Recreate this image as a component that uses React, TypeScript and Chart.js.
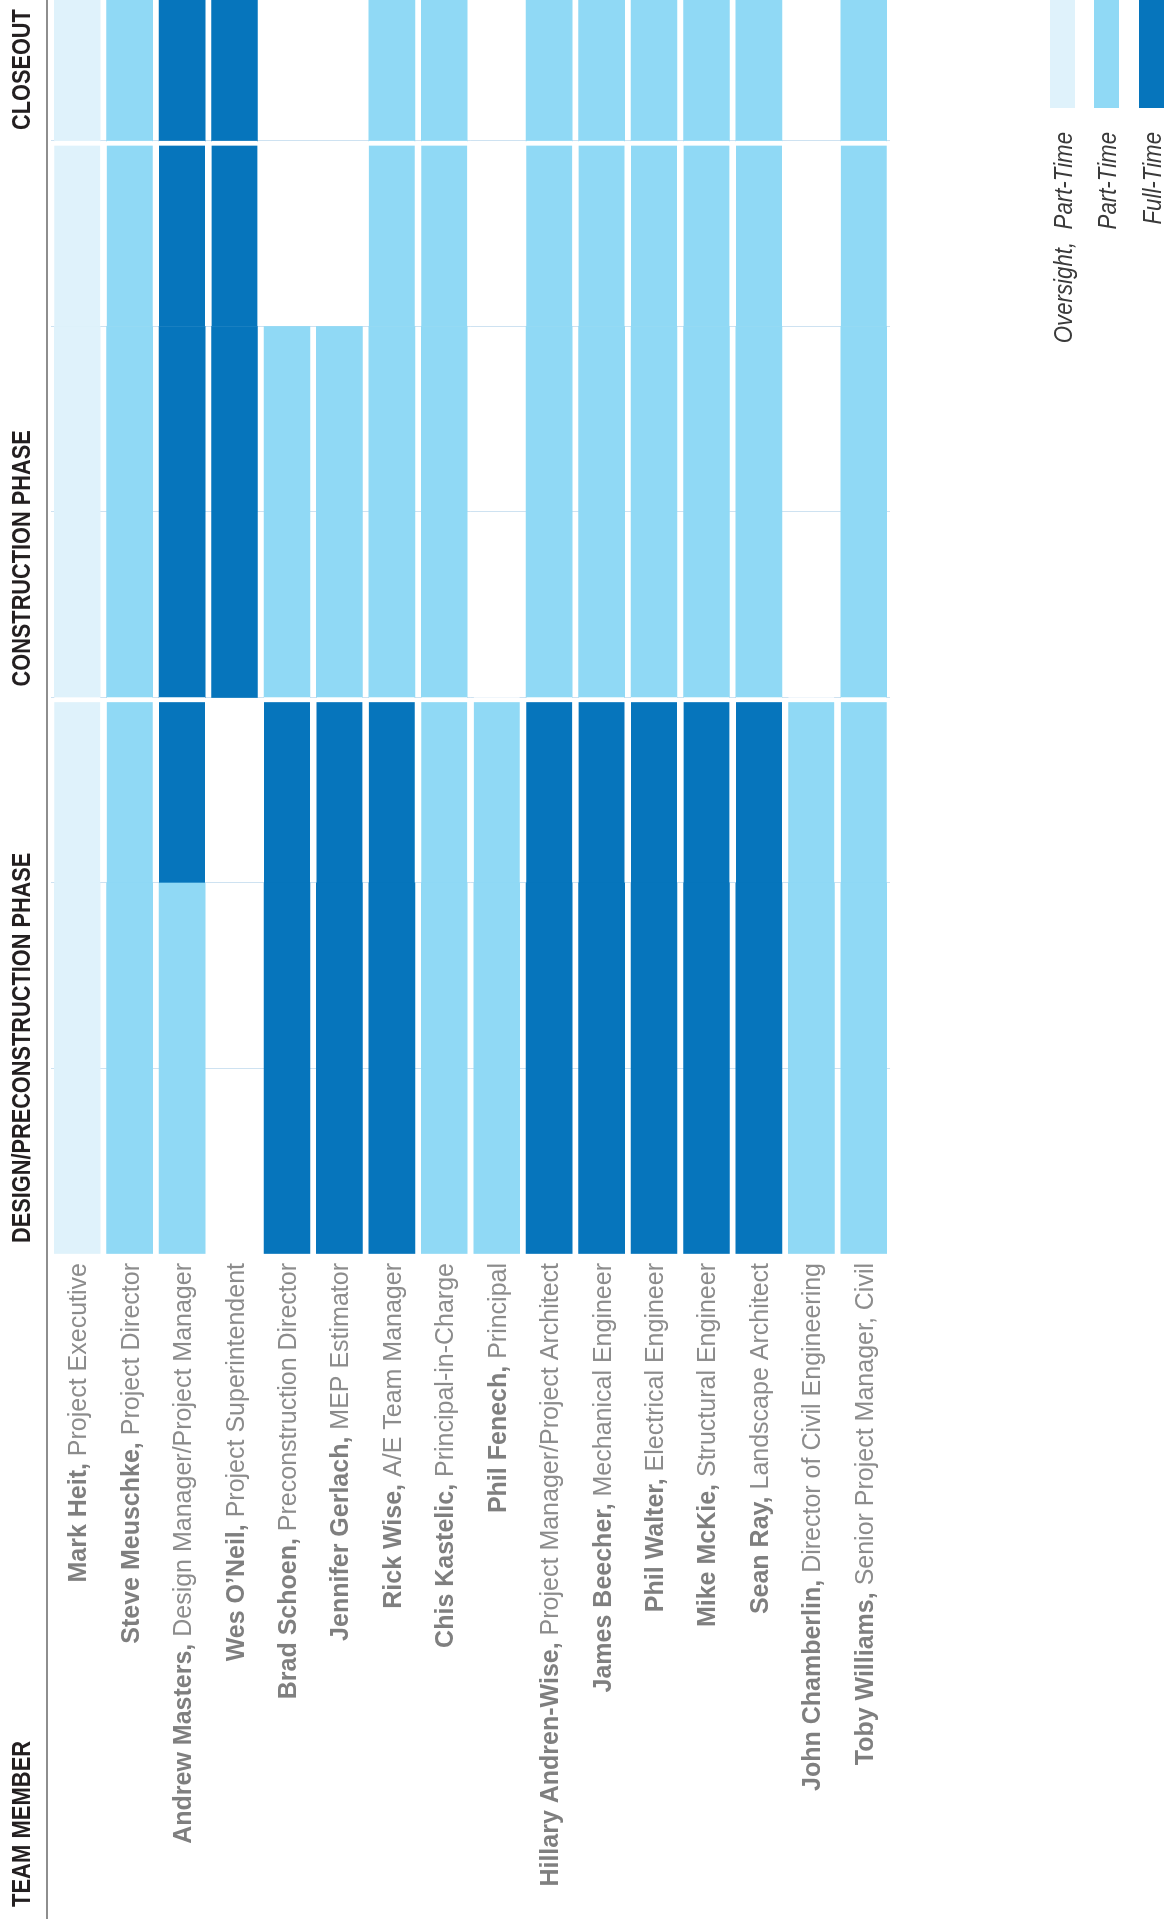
import React, { useEffect, useRef } from "react";
import { Chart, registerables } from "chart.js";

Chart.register(...registerables);

// ---- data ----
const memberNames = [
  "Mark Heit,",
  "Steve Meuschke,",
  "Andrew Masters,",
  "Wes O\u2019Neil,",
  "Brad Schoen,",
  "Jennifer Gerlach,",
  "Rick Wise,",
  "Chis Kastelic,",
  "Phil Fenech,",
  "Hillary Andren-Wise,",
  "James Beecher,",
  "Phil Walter,",
  "Mike McKie,",
  "Sean Ray,",
  "John Chamberlin,",
  "Toby Williams,",
];
const memberRoles = [
  "Project Executive",
  "Project Director",
  "Design Manager/Project Manager",
  "Project Superintendent",
  "Preconstruction Director",
  "MEP Estimator",
  "A/E Team Manager",
  "Principal-in-Charge",
  "Principal",
  "Project Manager/Project Architect",
  "Mechanical Engineer",
  "Electrical Engineer",
  "Structural Engineer",
  "Landscape Architect",
  "Director of Civil Engineering",
  "Senior Project Manager, Civil",
];

// involvement level: 0 none, 1 oversight part-time, 2 part-time, 3 full-time
const designEarly = [1, 2, 2, 0, 3, 3, 3, 2, 2, 3, 3, 3, 3, 3, 2, 2];
const designLate = [1, 2, 3, 0, 3, 3, 3, 2, 2, 3, 3, 3, 3, 3, 2, 2];
const constructionEarly = [1, 2, 3, 3, 2, 2, 2, 2, 0, 2, 2, 2, 2, 2, 0, 2];
const constructionLate = [1, 2, 3, 3, 0, 0, 2, 2, 0, 2, 2, 2, 2, 2, 0, 2];
const closeout = [1, 2, 3, 3, 0, 0, 2, 2, 0, 2, 2, 2, 2, 2, 0, 2];

const segmentLevels = [designEarly, designLate, constructionEarly, constructionLate, closeout];
const segmentSpans = [
  [0, 2],
  [2, 3],
  [3, 5],
  [5, 6],
  [6, 7],
];
const segmentGapAfter = [false, true, false, true, false];

const phaseLabels = ["DESIGN/PRECONSTRUCTION PHASE", "CONSTRUCTION PHASE", "CLOSEOUT"];
const phaseStarts = [0, 3, 6];
const axisMax = 6.76;

const levelColors = ["rgba(0,0,0,0)", "#dff2fb", "#90d9f5", "#0675bc"];
const legendLabels = ["Oversight,  Part-Time", "Part-Time", "Full-Time"];
const legendLevels = [1, 2, 3];

const W = 1919;
const H = 1165;

export default function App() {
  const ref = useRef<HTMLCanvasElement | null>(null);

  useEffect(() => {
    const canvas = ref.current;
    if (!canvas) return;

    const datasets = segmentLevels.map((levels, s) => ({
      label: "segment" + s,
      data: levels.map((l) => (l > 0 ? [segmentSpans[s][0], segmentSpans[s][1]] : null)),
      backgroundColor: levels.map((l) => levelColors[l]),
      borderColor: "#ffffff",
      borderWidth: segmentGapAfter[s] ? { top: 0, left: 0, bottom: 0, right: 5 } : 0,
      borderSkipped: false as any,
      barThickness: 46,
      grouped: false,
    }));

    const decor = {
      id: "decor",
      afterDraw(chart: any) {
        const ctx = chart.ctx as CanvasRenderingContext2D;
        const xs = chart.scales.x;
        const ys = chart.scales.y;
        ctx.save();

        // header rule
        ctx.strokeStyle = "#8e8e8e";
        ctx.lineWidth = 2;
        ctx.beginPath();
        ctx.moveTo(0, 47);
        ctx.lineTo(W, 47);
        ctx.stroke();

        // headers
        const drawSqueezed = (text: string, x: number, y: number, sx: number, align: "left" | "right") => {
          ctx.save();
          ctx.translate(x, y);
          ctx.scale(sx, 1);
          ctx.textAlign = align;
          ctx.fillText(text, 0, 0);
          ctx.restore();
        };
        ctx.fillStyle = "#231f20";
        ctx.font = "bold 25px 'Liberation Sans', Arial, sans-serif";
        ctx.textBaseline = "alphabetic";
        drawSqueezed("TEAM MEMBER", 12, 30, 0.88, "left");
        phaseLabels.forEach((t, i) => {
          drawSqueezed(t, xs.getPixelForValue(phaseStarts[i]) + 11, 30, 0.87, "left");
        });

        // member labels
        const right = chart.chartArea.left - 9;
        memberNames.forEach((name, i) => {
          const yc = ys.getPixelForValue(i) + 9;
          ctx.textAlign = "right";
          ctx.font = "25px 'Liberation Sans', Arial, sans-serif";
          ctx.fillStyle = "#8c8c8c";
          const role = " " + memberRoles[i];
          const rw = ctx.measureText(role).width;
          ctx.fillText(role, right, yc);
          ctx.font = "bold 25px 'Liberation Sans', Arial, sans-serif";
          ctx.fillStyle = "#7f7f7f";
          ctx.fillText(name, right - rw, yc);
        });

        // legend
        const rowCenters = [1062.5, 1106.5, 1151.5];
        legendLabels.forEach((t, i) => {
          const yc = rowCenters[i];
          ctx.fillStyle = levelColors[legendLevels[i]];
          ctx.fillRect(W - 108, yc - 12.5, 108, 25);
          ctx.fillStyle = "#3a3a3a";
          ctx.font = "italic 25px 'Liberation Sans', Arial, sans-serif";
          drawSqueezed(t, W - 132, yc + 9, 0.89, "right");
        });

        ctx.restore();
      },
    };

    const chart = new Chart(canvas, {
      type: "bar",
      data: { labels: memberNames, datasets: datasets as any },
      options: {
        indexAxis: "y",
        animation: false,
        responsive: false,
        devicePixelRatio: 1,
        layout: { padding: { left: 665, right: 0, top: 51, bottom: H - 890 } },
        plugins: { legend: { display: false }, tooltip: { enabled: false } },
        scales: {
          x: {
            type: "linear",
            position: "top",
            min: 0,
            max: axisMax,
            ticks: { display: false, stepSize: 1 },
            border: { display: false },
            grid: {
              drawTicks: false,
              lineWidth: 1,
              color: (c: any) =>
                c.tick && c.tick.value > 0 && c.tick.value < 6.5 ? "rgba(165,203,230,0.55)" : "rgba(0,0,0,0)",
            },
            afterFit: (a: any) => {
              a.height = 0;
            },
          },
          y: {
            type: "category",
            display: false,
            offset: true,
          },
        },
      },
      plugins: [decor],
    });

    return () => chart.destroy();
  }, []);

  return (
    <div
      style={{
        position: "fixed",
        left: 0,
        top: 0,
        width: 1165,
        height: 1919,
        overflow: "hidden",
        background: "#ffffff",
      }}
    >
      <div
        style={{
          position: "absolute",
          left: 0,
          top: 0,
          width: W,
          height: H,
          transformOrigin: "0 0",
          transform: "translate(0px, 1919px) rotate(-90deg)",
        }}
      >
        <canvas ref={ref} width={W} height={H} style={{ display: "block", width: W, height: H }} />
      </div>
    </div>
  );
}
